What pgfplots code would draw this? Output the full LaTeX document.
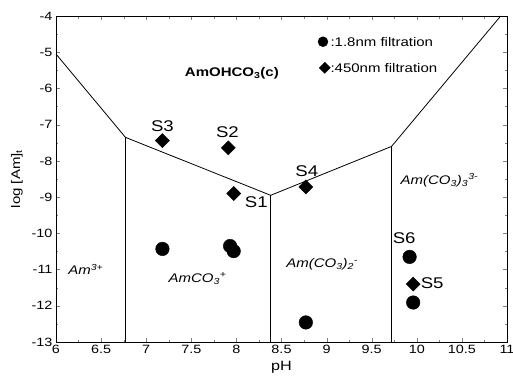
\documentclass[border=0pt]{standalone}
\usepackage{fontspec}
\setmainfont{Liberation Sans}[FakeStretch=1.2]
\usepackage{pgfplots}
\pgfplotsset{compat=1.18}
\begin{document}
\begin{tikzpicture}
\begin{axis}[
  scale only axis, width=451pt, height=326pt,
  xmin=6, xmax=11, ymin=-13, ymax=-4,
  xtick={6,6.5,...,11}, ytick={-13,-12,...,-4},
  minor x tick num=1, minor y tick num=1,
  tick align=inside, tick pos=both,
  major tick length=4pt, minor tick length=2.5pt,
  /pgf/number format/assume math mode=true,
  xticklabel style={font=\fontsize{12}{14}\selectfont},
  yticklabel style={font=\fontsize{12}{14}\selectfont},
  xlabel={pH}, ylabel={log [Am]\textsubscript{t}},
  xlabel style={font=\fontsize{13.5}{16}\selectfont, yshift=0pt},
  ylabel style={font=\fontsize{12.5}{15}\selectfont, yshift=2pt},
  axis line style={line width=0.9pt},
  clip=false,
]
% boundary lines
\addplot[black, line width=0.8pt] coordinates {(6,-5.05) (6.77,-7.35) (8.38,-8.95) (9.72,-7.6) (10.93,-4)};
\addplot[black, line width=0.6pt] coordinates {(6.77,-7.35) (6.77,-13)};
\addplot[black, line width=0.6pt] coordinates {(8.38,-8.95) (8.38,-13)};
\addplot[black, line width=0.6pt] coordinates {(9.72,-7.6) (9.72,-13)};
% 1.8 nm filtration
\addplot[only marks, mark=*, mark size=6.8pt, black] coordinates {
 (7.18,-10.43) (7.93,-10.35) (7.97,-10.49) (8.77,-12.46) (9.92,-10.65) (9.96,-11.91)};
% 450 nm filtration
\addplot[only marks, mark=square*, mark size=5pt, mark options={rotate=45}, black] coordinates {
 (7.18,-7.44) (7.91,-7.64) (7.97,-8.9) (8.77,-8.72) (9.96,-11.4)};
% legend
\addplot[only marks, mark=*, mark size=5pt, black] coordinates {(8.96,-4.71)};
\addplot[only marks, mark=square*, mark size=3.9pt, mark options={rotate=45}, black] coordinates {(8.98,-5.43)};
\node[anchor=west, font=\fontsize{12.5}{14}\selectfont, inner sep=1pt] at (axis cs:9.03,-4.71) {:1.8nm filtration};
\node[anchor=west, font=\fontsize{12.5}{14}\selectfont, inner sep=1pt] at (axis cs:9.03,-5.43) {:450nm filtration};
% sample labels
\node[font=\fontsize{15.5}{17}\selectfont] at (axis cs:7.18,-7.03) {S3};
\node[font=\fontsize{15.5}{17}\selectfont] at (axis cs:7.90,-7.22) {S2};
\node[font=\fontsize{15.5}{17}\selectfont] at (axis cs:8.22,-9.15) {S1};
\node[font=\fontsize{15.5}{17}\selectfont] at (axis cs:8.78,-8.28) {S4};
\node[font=\fontsize{15.5}{17}\selectfont] at (axis cs:9.86,-10.13) {S6};
\node[font=\fontsize{15.5}{17}\selectfont] at (axis cs:10.17,-11.37) {S5};
% region labels
\node[font=\bfseries\fontsize{12.5}{14}\selectfont] at (axis cs:7.95,-5.58) {AmOHCO\textsubscript{3}(c)};
\node[font=\itshape\fontsize{12.5}{14}\selectfont] at (axis cs:6.33,-11.0) {Am\textsuperscript{3+}};
\node[font=\itshape\fontsize{12.5}{14}\selectfont] at (axis cs:7.57,-11.25) {AmCO\textsubscript{3}\textsuperscript{+}};
\node[font=\itshape\fontsize{12.5}{14}\selectfont] at (axis cs:8.95,-10.85) {Am(CO\textsubscript{3})\textsubscript{2}\textsuperscript{-}};
\node[font=\itshape\fontsize{12.5}{14}\selectfont] at (axis cs:10.25,-8.53) {Am(CO\textsubscript{3})\textsubscript{3}\textsuperscript{3-}};
\end{axis}
\pgfresetboundingbox
\path[use as bounding box] (-56pt,-34pt) rectangle (457pt,342pt);
\end{tikzpicture}
\end{document}
